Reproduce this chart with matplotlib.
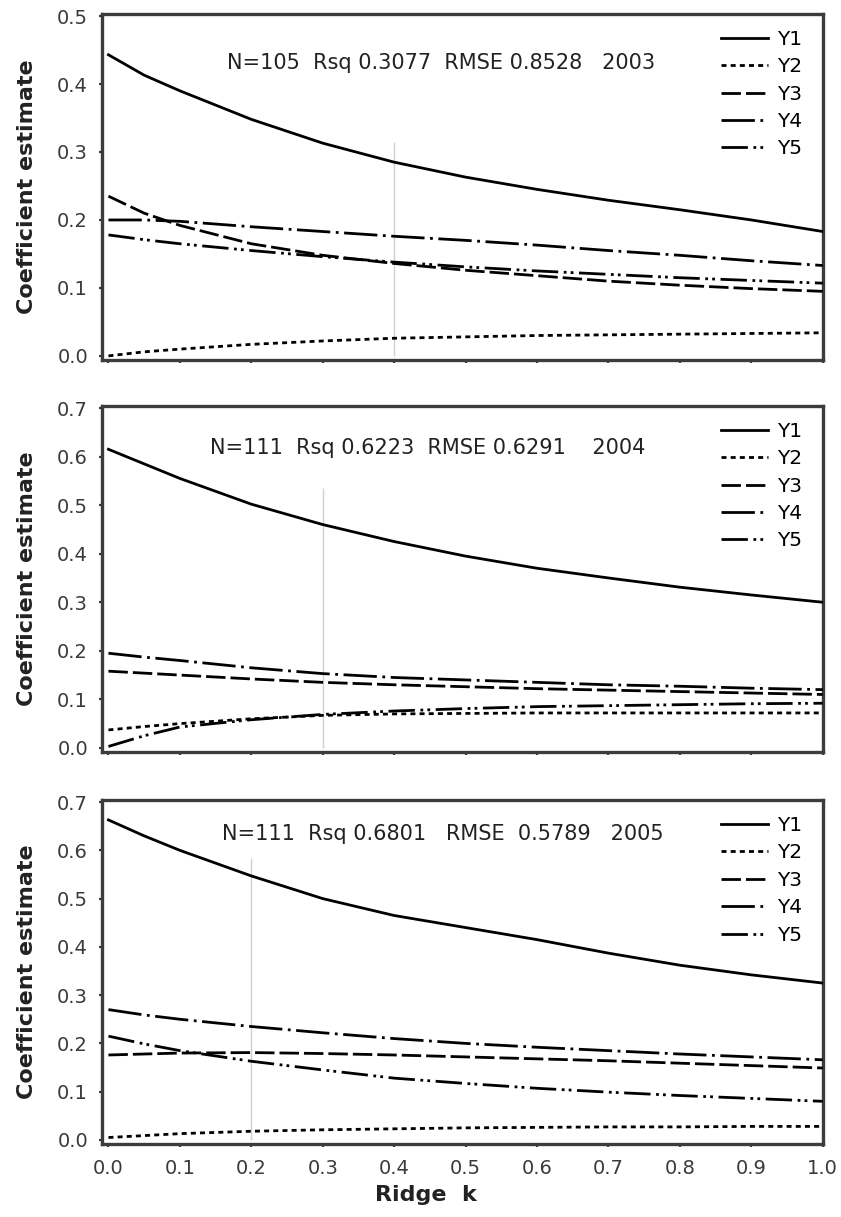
import matplotlib
matplotlib.use("Agg")
from matplotlib import pyplot as plt

plt.rcParams['font.family'] = ['DejaVu Sans']

k = [0.0, 0.05, 0.1, 0.2, 0.3, 0.4, 0.5, 0.6, 0.7, 0.8, 0.9, 1.0]
labels = ['Y1', 'Y2', 'Y3', 'Y4', 'Y5']

# 2003
y1_2003 = [0.443, 0.413, 0.390, 0.348, 0.313, 0.285, 0.263, 0.245, 0.229, 0.215, 0.200, 0.183]
y2_2003 = [0.000, 0.006, 0.010, 0.017, 0.022, 0.026, 0.028, 0.030, 0.031, 0.032, 0.033, 0.034]
y3_2003 = [0.235, 0.210, 0.192, 0.165, 0.148, 0.136, 0.126, 0.118, 0.110, 0.104, 0.099, 0.095]
y4_2003 = [0.200, 0.200, 0.198, 0.190, 0.183, 0.176, 0.170, 0.163, 0.155, 0.148, 0.140, 0.133]
y5_2003 = [0.178, 0.171, 0.165, 0.155, 0.146, 0.138, 0.131, 0.125, 0.120, 0.115, 0.111, 0.107]

# 2004
y1_2004 = [0.615, 0.585, 0.555, 0.502, 0.460, 0.425, 0.395, 0.370, 0.350, 0.331, 0.315, 0.300]
y2_2004 = [0.037, 0.044, 0.050, 0.060, 0.067, 0.070, 0.071, 0.072, 0.072, 0.072, 0.072, 0.072]
y3_2004 = [0.158, 0.154, 0.150, 0.142, 0.135, 0.130, 0.126, 0.122, 0.119, 0.116, 0.113, 0.110]
y4_2004 = [0.195, 0.187, 0.180, 0.165, 0.153, 0.145, 0.140, 0.135, 0.130, 0.127, 0.123, 0.120]
y5_2004 = [0.003, 0.025, 0.043, 0.058, 0.069, 0.076, 0.081, 0.085, 0.087, 0.089, 0.091, 0.092]

# 2005
y1_2005 = [0.663, 0.630, 0.600, 0.547, 0.500, 0.465, 0.440, 0.415, 0.387, 0.362, 0.342, 0.325]
y2_2005 = [0.005, 0.009, 0.013, 0.018, 0.021, 0.023, 0.025, 0.026, 0.027, 0.027, 0.028, 0.028]
y3_2005 = [0.176, 0.178, 0.180, 0.181, 0.179, 0.176, 0.172, 0.168, 0.164, 0.159, 0.154, 0.149]
y4_2005 = [0.270, 0.259, 0.250, 0.235, 0.222, 0.210, 0.200, 0.192, 0.185, 0.178, 0.172, 0.166]
y5_2005 = [0.215, 0.199, 0.185, 0.163, 0.145, 0.128, 0.117, 0.107, 0.099, 0.092, 0.086, 0.080]

stats = ['N=105  Rsq 0.3077  RMSE 0.8528   2003',
         'N=111  Rsq 0.6223  RMSE 0.6291    2004',
         'N=111  Rsq 0.6801   RMSE  0.5789   2005']
chosen_k = [0.4, 0.3, 0.2]
chosen_top = [0.315, 0.535, 0.585]
ymax = [0.5, 0.7, 0.7]

panels = [
    [y1_2003, y2_2003, y3_2003, y4_2003, y5_2003],
    [y1_2004, y2_2004, y3_2004, y4_2004, y5_2004],
    [y1_2005, y2_2005, y3_2005, y4_2005, y5_2005],
]

styles = ['-', (0, (1.8, 1.5)), (0, (7, 1.8)), (0, (12, 2, 1, 2)), (0, (9.5, 2, 1, 1.5, 1, 2))]

rects = [[0.1213, 0.7042, 0.857, 0.2843],
         [0.1213, 0.3821, 0.857, 0.2843],
         [0.1213, 0.0600, 0.857, 0.2826]]
text_pos = [(0.173, 0.857), (0.150, 0.879), (0.166, 0.901)]

fig = plt.figure(figsize=(8.41, 12.17), dpi=100)

for i in range(3):
    ax = fig.add_axes(rects[i])
    ax.vlines(chosen_k[i], 0, chosen_top[i], color='#d0d0d0', lw=1.0, zorder=1)
    for j in range(5):
        ax.plot(k, panels[i][j], color='black', lw=2.0, linestyle=styles[j],
                label=labels[j], zorder=3)
    ax.set_xlim(-0.009, 1.0)
    span = ymax[i]
    ax.set_ylim(-0.012 * span, span * 1.006)
    ax.set_yticks([t / 10 for t in range(int(round(span * 10)) + 1)])
    ax.set_xticks([t / 10 for t in range(11)])
    ax.yaxis.set_major_formatter(matplotlib.ticker.FormatStrFormatter('%.1f'))
    ax.xaxis.set_major_formatter(matplotlib.ticker.FormatStrFormatter('%.1f'))
    for s in ax.spines.values():
        s.set_linewidth(2.4)
        s.set_color('#3c3c3c')
    ax.tick_params(direction='out', length=2.5, width=1.6, color='#3c3c3c',
                   labelsize=14, labelcolor='#3a3a3a')
    ax.tick_params(axis='y', pad=7.5)
    ax.tick_params(axis='x', pad=8)
    if i < 2:
        ax.tick_params(axis='x', labelbottom=False)
    else:
        ax.set_xlabel('Ridge  k', fontsize=16, fontweight='bold', color='#222222')
        ax.xaxis.set_label_coords(0.45, -0.12)
    ax.set_ylabel('Coefficient estimate', fontsize=16, fontweight='bold', color='#222222')
    ax.yaxis.set_label_coords(-0.09, 0.5)
    ax.text(text_pos[i][0], text_pos[i][1], stats[i], transform=ax.transAxes,
            fontsize=15, color='#222222', va='center', ha='left')
    ax.legend(loc='upper right', bbox_to_anchor=(1.0, 1.013), frameon=False,
              fontsize=14.5, handlelength=2.35, handletextpad=0.45,
              labelspacing=0.42, borderaxespad=0.6)

fig.savefig('out.png', dpi=100)
